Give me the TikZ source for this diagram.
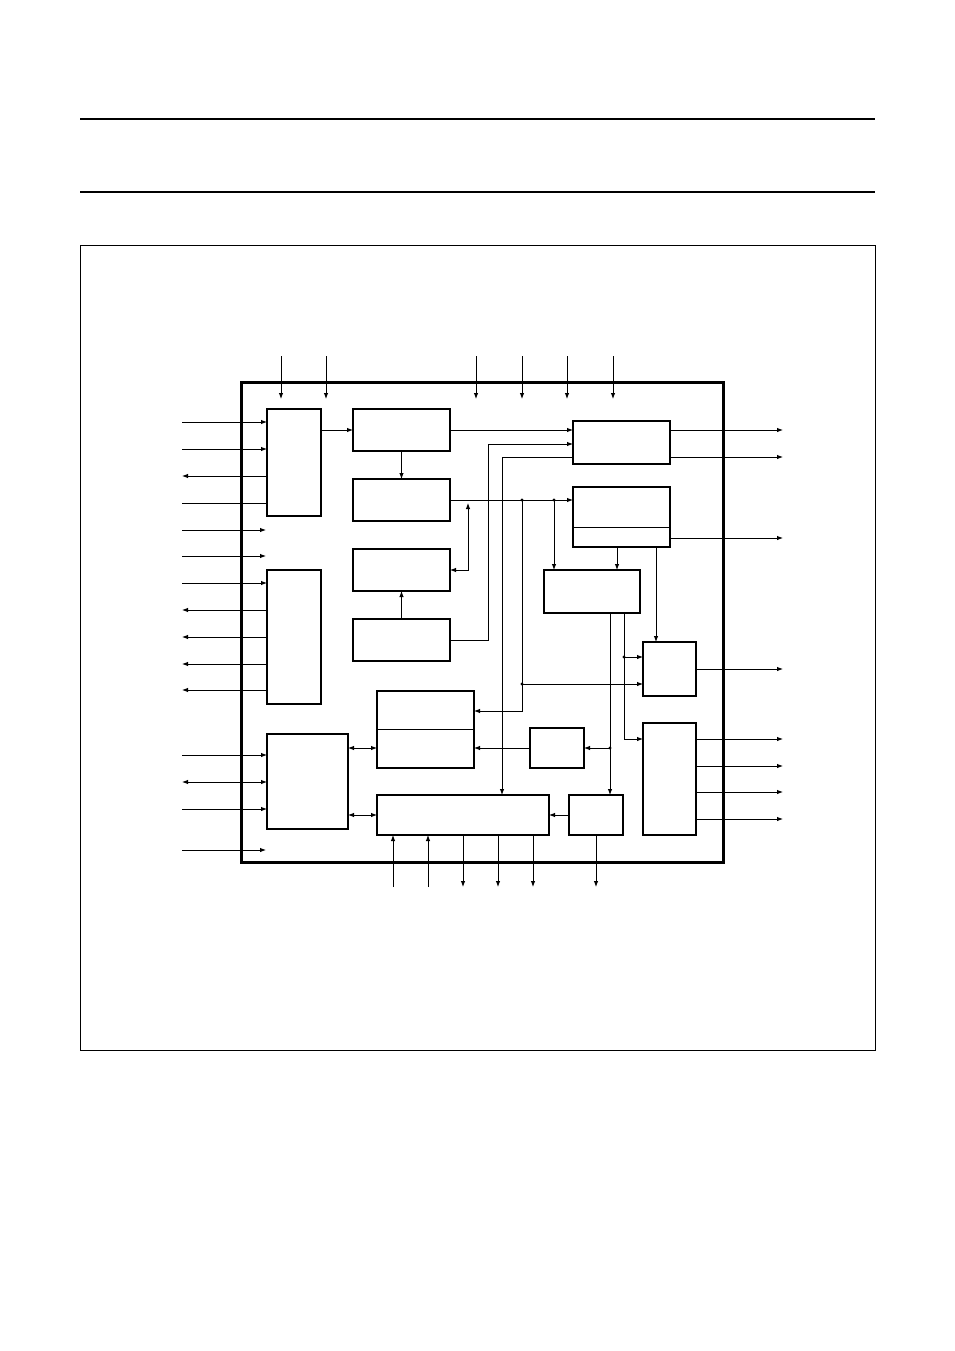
\documentclass[tikz,border=0pt]{standalone}
\usepackage{tikz}
\usetikzlibrary{arrows.meta, calc}
\tikzstyle{block} = [rectangle, draw=black, line width=1.4pt, inner sep=0pt, outer sep=0pt]
\tikzstyle{arrow} = [line width=0.9pt, -{Latex[length=6pt, width=4.5pt]}]
\tikzstyle{biarrow} = [line width=0.9pt, {Latex[length=6pt, width=4.5pt]}-{Latex[length=6pt, width=4.5pt]}]
\tikzstyle{wire} = [line width=0.9pt]

\begin{document}
\begin{tikzpicture}[x=1pt, y=-1pt]
    \useasboundingbox (0,0) rectangle (954,1351);
    % page rules and figure frame
    \draw[line width=2pt] (80,119) -- (875,119);
    \draw[line width=2pt] (80,192) -- (875,192);
    \draw[line width=0.8pt] (80,245) rectangle (875,1050);

    % chip outline
    \node[block, line width=3pt, minimum width=482pt, minimum height=480pt] (chip) at (482,622) {};

    % blocks
    \node[block, minimum width=54pt, minimum height=107pt] (inA) at (294,462.5) {};
    \node[block, minimum width=97pt, minimum height=42pt] (regB) at (401.5,430) {};
    \node[block, minimum width=97pt, minimum height=42pt] (regC) at (401.5,500) {};
    \node[block, minimum width=97pt, minimum height=42pt] (regD) at (401.5,570) {};
    \node[block, minimum width=97pt, minimum height=42pt] (regE) at (401.5,640) {};
    \node[block, minimum width=54pt, minimum height=134pt] (outF) at (294,637) {};
    \node[block, minimum width=97pt, minimum height=77pt] (memG) at (425.5,729.5) {};
    \node[block, minimum width=81pt, minimum height=95pt] (busH) at (307.5,781.5) {};
    \node[block, minimum width=172pt, minimum height=40pt] (ctlI) at (463,815) {};
    \node[block, minimum width=54pt, minimum height=40pt] (smJ) at (557,748) {};
    \node[block, minimum width=54pt, minimum height=40pt] (smK) at (596,815) {};
    \node[block, minimum width=97pt, minimum height=43pt] (outL) at (621.5,442.5) {};
    \node[block, minimum width=97pt, minimum height=60pt] (dspM) at (621.5,517) {};
    \node[block, minimum width=96pt, minimum height=43pt] (midN) at (592,591.5) {};
    \node[block, minimum width=53pt, minimum height=54pt] (drvO) at (669.5,669) {};
    \node[block, minimum width=53pt, minimum height=112pt] (drvP) at (669.5,779) {};

    % dividers
    \draw[wire] (memG.west) -- (memG.east);
    \draw[wire] ([yshift=20pt]dspM.south west) -- ([yshift=20pt]dspM.south east);

    % top pins
    \foreach \x [count=\i] in {281,326,476,522,567,613} {
        \coordinate (top\i) at (\x,356);
        \coordinate (topend\i) at (\x,399);
        \draw[arrow] (top\i) -- (topend\i);
    }

    % left pins
    \foreach \y [count=\i] in {422,449} {
        \coordinate (pa\i) at (182,\y);
        \draw[arrow] (pa\i) -- (pa\i -| inA.west);
    }
    \coordinate (pa3) at (182,476);
    \draw[arrow] (pa3 -| inA.west) -- (pa3);
    \coordinate (pa4) at (182,503);
    \draw[wire] (pa4) -- (pa4 -| inA.west);
    \foreach \y [count=\i] in {530,556,850} {
        \coordinate (pf\i) at (182,\y);
        \coordinate (pfend\i) at (266,\y);
        \draw[arrow] (pf\i) -- (pfend\i);
    }
    \coordinate (pb1) at (182,583);
    \draw[arrow] (pb1) -- (pb1 -| outF.west);
    \foreach \y [count=\i] in {610,637,664,690} {
        \coordinate (pc\i) at (182,\y);
        \draw[arrow] (pc\i -| outF.west) -- (pc\i);
    }
    \coordinate (pd1) at (182,755);
    \coordinate (pd2) at (182,782);
    \coordinate (pd3) at (182,809);
    \draw[arrow] (pd1) -- (pd1 -| busH.west);
    \draw[biarrow] (pd2) -- (pd2 -| busH.west);
    \draw[arrow] (pd3) -- (pd3 -| busH.west);

    % right pins
    \foreach \y [count=\i] in {430,457} {
        \coordinate (pr\i) at (783,\y);
        \draw[arrow] (pr\i -| outL.east) -- (pr\i);
    }
    \coordinate (pr3) at (783,538);
    \draw[arrow] (pr3 -| dspM.east) -- (pr3);
    \coordinate (pr4) at (783,669);
    \draw[arrow] (drvO.east) -- (pr4);
    \foreach \y [count=\i] in {739,766,792,819} {
        \coordinate (pp\i) at (783,\y);
        \draw[arrow] (pp\i -| drvP.east) -- (pp\i);
    }

    % bottom pins
    \foreach \x [count=\i] in {393,428} {
        \coordinate (bu\i) at (\x,887);
        \draw[arrow] (bu\i) -- (bu\i |- ctlI.south);
    }
    \foreach \x [count=\i] in {463,498,533} {
        \coordinate (bd\i) at (\x,887);
        \draw[arrow] (bd\i |- ctlI.south) -- (bd\i);
    }
    \coordinate (bk) at (596,887);
    \draw[arrow] (smK.south) -- (bk);

    % internal connections
    \draw[arrow] (regB.west -| inA.east) -- (regB.west);
    \draw[arrow] (regB.south) -- (regC.north);
    \draw[arrow] (regE.north) -- (regD.south);
    \draw[arrow] (regB.east) -- (regB.east -| outL.west);
    \coordinate (riseE) at (488,444);
    \draw[arrow] (regE.east) -| (riseE) -- (riseE -| outL.west);
    \coordinate (dropI) at (502,457);
    \draw[arrow] (dropI -| outL.west) -- (dropI) -- (dropI |- ctlI.north);
    \draw[arrow] (regC.east) -- (regC.east -| dspM.west);
    \coordinate (retD) at (468,503);
    \draw[biarrow] (regD.east) -| (retD);
    \coordinate (tap1) at (522,500);
    \coordinate (tap2) at (554,500);
    \coordinate (tap3) at (522,684);
    \coordinate (bendG) at (522,711);
    \draw[arrow] (tap2) -- (tap2 |- midN.north);
    \draw[wire] (tap1) -- (tap3);
    \draw[arrow] (tap3) -- (tap3 -| drvO.west);
    \draw[arrow] (tap3) -- (bendG) -- (bendG -| memG.east);
    \coordinate (mn) at (617,547);
    \draw[arrow] (mn) -- (mn |- midN.north);
    \coordinate (mo) at (656,547);
    \draw[arrow] (mo) -- (mo |- drvO.north);
    \coordinate (nk) at (610,613);
    \draw[arrow] (nk) -- (nk |- smK.north);
    \draw[arrow] (nk |- smJ.east) -- (smJ.east);
    \coordinate (np) at (624,613);
    \coordinate (tapO) at (624,657);
    \coordinate (pinP) at (624,739);
    \draw[arrow] (np) -- (pinP) -- (pinP -| drvP.west);
    \draw[arrow] (tapO) -- (tapO -| drvO.west);
    \draw[arrow] (smJ.west) -- (smJ.west -| memG.east);
    \draw[biarrow] (smJ.west -| busH.east) -- (smJ.west -| memG.west);
    \draw[biarrow] (ctlI.west -| busH.east) -- (ctlI.west);
    \draw[arrow] (smK.west) -- (ctlI.east);

    % junction dots
    \foreach \p in {tap1, tap2, tap3, tapO} {
        \fill (\p) circle (1.6pt);
    }
    \fill (nk |- smJ.east) circle (1.6pt);
\end{tikzpicture}
\end{document}
